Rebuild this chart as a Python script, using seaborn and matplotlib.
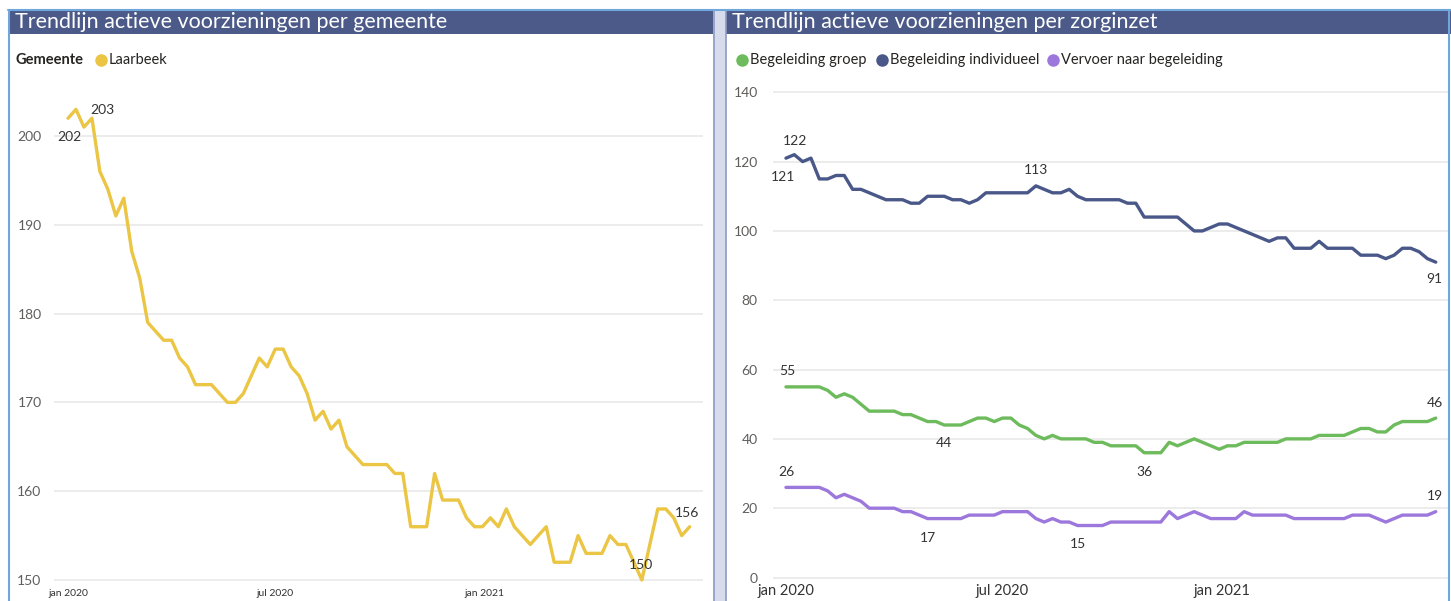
import numpy as np
import pandas as pd
import matplotlib.pyplot as plt
import seaborn as sns
from matplotlib.patches import Rectangle
from matplotlib.lines import Line2D

# -------------------------------
start_date = "2020-01-01"
n_weeks = 79

laarbeek = [202, 203, 201, 202, 196, 194, 191, 193, 187, 184,
            179, 178, 177, 177, 175, 174, 172, 172, 172, 171,
            170, 170, 171, 173, 175, 174, 176, 176, 174, 173,
            171, 168, 169, 167, 168, 165, 164, 163, 163, 163,
            163, 162, 162, 156, 156, 156, 162, 159, 159, 159,
            157, 156, 156, 157, 156, 158, 156, 155, 154, 155,
            156, 152, 152, 152, 155, 153, 153, 153, 155, 154,
            154, 152, 150, 154, 158, 158, 157, 155, 156]

begeleiding_groep = [55, 55, 55, 55, 55, 54, 52, 53, 52, 50,
                     48, 48, 48, 48, 47, 47, 46, 45, 45, 44,
                     44, 44, 45, 46, 46, 45, 46, 46, 44, 43,
                     41, 40, 41, 40, 40, 40, 40, 39, 39, 38,
                     38, 38, 38, 36, 36, 36, 39, 38, 39, 40,
                     39, 38, 37, 38, 38, 39, 39, 39, 39, 39,
                     40, 40, 40, 40, 41, 41, 41, 41, 42, 43,
                     43, 42, 42, 44, 45, 45, 45, 45, 46]

begeleiding_individueel = [121, 122, 120, 121, 115, 115, 116, 116, 112, 112,
                           111, 110, 109, 109, 109, 108, 108, 110, 110, 110,
                           109, 109, 108, 109, 111, 111, 111, 111, 111, 111,
                           113, 112, 111, 111, 112, 110, 109, 109, 109, 109,
                           109, 108, 108, 104, 104, 104, 104, 104, 102, 100,
                           100, 101, 102, 102, 101, 100, 99, 98, 97, 98,
                           98, 95, 95, 95, 97, 95, 95, 95, 95, 93,
                           93, 93, 92, 93, 95, 95, 94, 92, 91]

vervoer_begeleiding = [26, 26, 26, 26, 26, 25, 23, 24, 23, 22,
                       20, 20, 20, 20, 19, 19, 18, 17, 17, 17,
                       17, 17, 18, 18, 18, 18, 19, 19, 19, 19,
                       17, 16, 17, 16, 16, 15, 15, 15, 15, 16,
                       16, 16, 16, 16, 16, 16, 19, 17, 18, 19,
                       18, 17, 17, 17, 17, 19, 18, 18, 18, 18,
                       18, 17, 17, 17, 17, 17, 17, 17, 18, 18,
                       18, 17, 16, 17, 18, 18, 18, 18, 19]

zorginzet = ["Begeleiding groep", "Begeleiding individueel", "Vervoer naar begeleiding"]
gemeente = "Laarbeek"

tick_dates = ["2020-01-01", "2020-07-01", "2021-01-01"]
tick_labels = ["jan 2020", "jul 2020", "jan 2021"]

left_yticks = [150, 160, 170, 180, 190, 200]
right_yticks = [0, 20, 40, 60, 80, 100, 120, 140]

# Prepare frames
# -------------------------------
dates = pd.date_range(start_date, periods=n_weeks, freq="7D")
df_gem = pd.DataFrame({"Datum": dates, "Aantal": laarbeek})
df_zorg = pd.DataFrame({"Datum": dates,
                        zorginzet[0]: begeleiding_groep,
                        zorginzet[1]: begeleiding_individueel,
                        zorginzet[2]: vervoer_begeleiding})
df_zorg = df_zorg.melt(id_vars="Datum", var_name="Zorginzet", value_name="Aantal")

# Style
# -------------------------------
sns.set_theme(style="white")
plt.rcParams["font.family"] = ["Lato", "DejaVu Sans"]

yellow = "#EBC544"
colors = {zorginzet[0]: "#6DBB5C", zorginzet[1]: "#4A5889", zorginzet[2]: "#9C78DC"}
bar_col = "#4B5A88"
border_col = "#6FA6DC"
grid_col = "#EAEAEA"
tick_col = "#605E5C"
label_col = "#333333"

W, H = 1451, 601
fig = plt.figure(figsize=(W / 100, H / 100), dpi=100)


def fx(px):
    return px / W


def fy(py):
    return 1 - py / H


def px_rect(x0, y0, x1, y1):
    return [fx(x0), fy(y1), (x1 - x0) / W, (y1 - y0) / H]


# Panel chrome: borders, title bars, separator
fig.add_artist(Rectangle((fx(713), fy(601)), 13 / W, (601 - 11) / H, transform=fig.transFigure,
                         facecolor="#D6DCEC", edgecolor="none"))
for xl in [713.5, 725.5]:
    fig.add_artist(Line2D([fx(xl), fx(xl)], [fy(11), fy(601)], transform=fig.transFigure,
                          color="#8D9BC3", lw=1.2))
fig.add_artist(Line2D([fx(8), fx(1451)], [fy(10), fy(10)], transform=fig.transFigure,
                      color=border_col, lw=1.5))
for xl in [8.5, 1449]:
    fig.add_artist(Line2D([fx(xl), fx(xl)], [fy(10), fy(601)], transform=fig.transFigure,
                          color=border_col, lw=1.5))
fig.add_artist(Rectangle((fx(9), fy(34)), (713 - 9) / W, 23 / H, transform=fig.transFigure,
                         facecolor=bar_col, edgecolor="none"))
fig.add_artist(Rectangle((fx(726), fy(34)), (1451 - 726) / W, 23 / H, transform=fig.transFigure,
                         facecolor=bar_col, edgecolor="none"))
fig.text(fx(15), fy(22), "Trendlijn actieve voorzieningen per gemeente", color="white",
         fontsize=15.5, va="center", ha="left")
fig.text(fx(732), fy(22), "Trendlijn actieve voorzieningen per zorginzet", color="white",
         fontsize=15.5, va="center", ha="left")

# Legends
fig.text(fx(16), fy(60), "Gemeente", fontsize=10.5, fontweight="bold", color="#252423", va="center")
fig.add_artist(Line2D([fx(101)], [fy(60)], transform=fig.transFigure, marker="o", ms=8,
                      color=yellow, lw=0))
fig.text(fx(109), fy(60), gemeente, fontsize=10.5, color="#252423", va="center")

leg_x = [742, 882, 1053]
for name, lx in zip(zorginzet, leg_x):
    fig.add_artist(Line2D([fx(lx)], [fy(60)], transform=fig.transFigure, marker="o", ms=8,
                          color=colors[name], lw=0))
    fig.text(fx(lx + 8), fy(60), name, fontsize=10.5, color="#252423", va="center")

# Left chart: per gemeente
# -------------------------------
ax1 = fig.add_axes(px_rect(54, 80, 703, 582))
sns.lineplot(data=df_gem, x="Datum", y="Aantal", color=yellow, linewidth=2.4, ax=ax1)
ax1.set_ylim(150 - 2 / 8.88, 150 + 500 / 8.88)
ax1.set_xlim(dates[0] - pd.Timedelta(days=12.3), dates[0] + pd.Timedelta(days=557.7))
ax1.set_yticks(left_yticks)
ax1.set_xticks(pd.to_datetime(tick_dates))
ax1.set_xticklabels(tick_labels, fontsize=7.5, color=label_col)
ax1.tick_params(axis="y", labelsize=10, labelcolor=tick_col, length=0, pad=9)
ax1.tick_params(axis="x", length=0, pad=5)
ax1.grid(axis="y", color=grid_col, lw=1.3)
ax1.set_axisbelow(True)
ax1.set_xlabel("")
ax1.set_ylabel("")
for s in ax1.spines.values():
    s.set_visible(False)

left_labels = [(0, 1, -19), (1, 26, -1), (72, -1, 15), (78, -3, 14)]
for i, dx, dy in left_labels:
    ax1.annotate(str(laarbeek[i]), (dates[i], laarbeek[i]), xytext=(dx, dy),
                 textcoords="offset pixels", ha="center", va="center", fontsize=10, color=label_col)

# Right chart: per zorginzet
# -------------------------------
ax2 = fig.add_axes(px_rect(773, 80, 1448, 579.5))
sns.lineplot(data=df_zorg, x="Datum", y="Aantal", hue="Zorginzet", palette=colors,
             linewidth=2.4, legend=False, ax=ax2)
ax2.set_ylim(-2 / 3.466, 140 + 12.3 / 3.466)
ax2.set_xlim(dates[0] - pd.Timedelta(days=10.9), dates[0] + pd.Timedelta(days=556.3))
ax2.set_yticks(right_yticks)
ax2.set_xticks(pd.to_datetime(tick_dates))
ax2.set_xticklabels(tick_labels, fontsize=10.5, color=label_col)
ax2.tick_params(axis="y", labelsize=10, labelcolor=tick_col, length=0, pad=11)
ax2.tick_params(axis="x", length=0, pad=3)
ax2.grid(axis="y", color=grid_col, lw=1.3)
ax2.set_axisbelow(True)
ax2.set_xlabel("")
ax2.set_ylabel("")
for s in ax2.spines.values():
    s.set_visible(False)

series = {zorginzet[0]: begeleiding_groep, zorginzet[1]: begeleiding_individueel,
          zorginzet[2]: vervoer_begeleiding}
right_labels = [(zorginzet[1], 0, -3, -19), (zorginzet[1], 1, 1, 14), (zorginzet[1], 30, 0, 16),
                (zorginzet[1], 78, -1, -17),
                (zorginzet[0], 0, 1, 16), (zorginzet[0], 19, 0, -18), (zorginzet[0], 43, 0, -19),
                (zorginzet[0], 78, -1, 15),
                (zorginzet[2], 0, 0, 15), (zorginzet[2], 17, 0, -19), (zorginzet[2], 35, 0, -18),
                (zorginzet[2], 78, -1, 16)]
for name, i, dx, dy in right_labels:
    vals = series[name]
    ax2.annotate(str(vals[i]), (dates[i], vals[i]), xytext=(dx, dy),
                 textcoords="offset pixels", ha="center", va="center", fontsize=10, color=label_col)

fig.savefig("out.png", dpi=100, facecolor="white")
